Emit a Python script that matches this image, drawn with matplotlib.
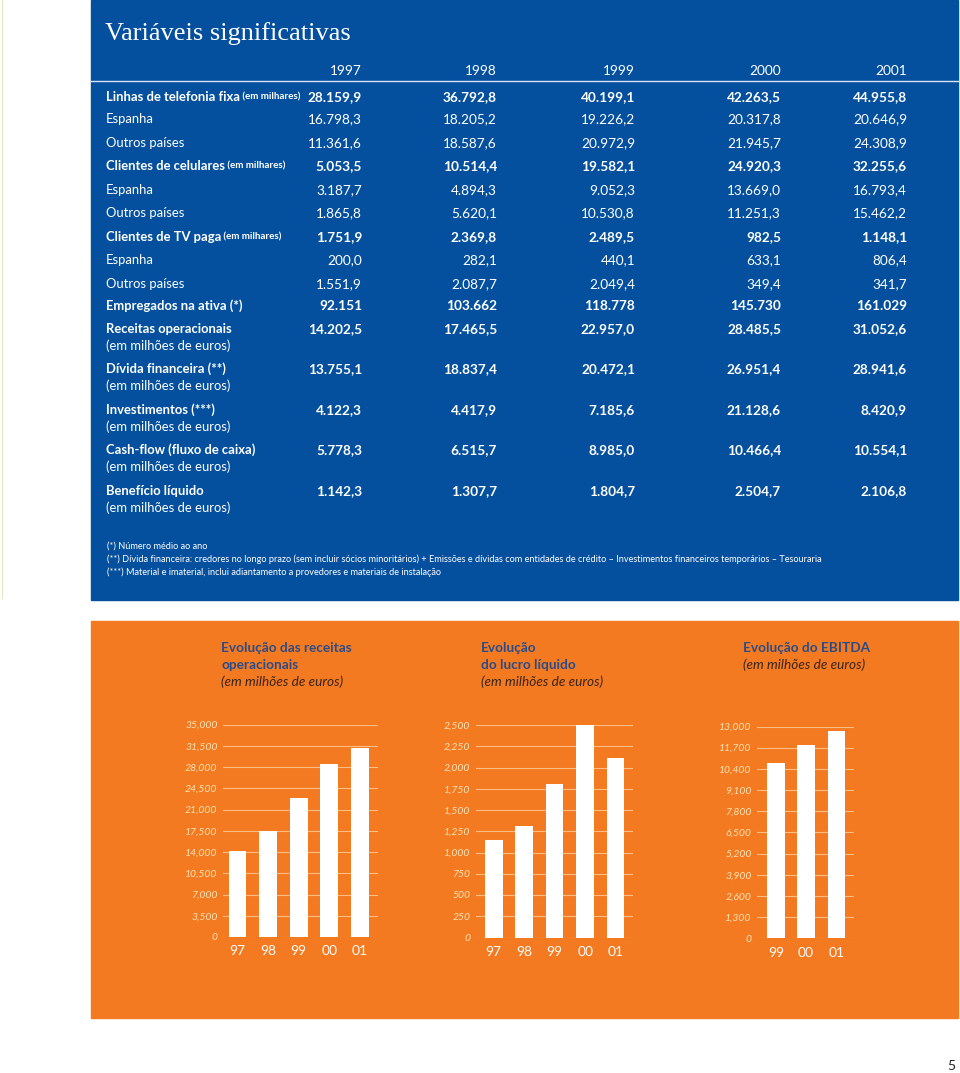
import matplotlib
matplotlib.use('Agg')
import matplotlib.pyplot as plt
from matplotlib.patches import Rectangle

# --- dados da tabela ---
years = ['1997', '1998', '1999', '2000', '2001']

row_labels = ['Linhas de telefonia fixa', 'Espanha', 'Outros países',
              'Clientes de celulares', 'Espanha', 'Outros países',
              'Clientes de TV paga', 'Espanha', 'Outros países',
              'Empregados na ativa (*)', 'Receitas operacionais',
              'Dívida financeira (**)', 'Investimentos (***)',
              'Cash-flow (fluxo de caixa)', 'Benefício líquido']
row_units = ['(em milhares)', '', '', '(em milhares)', '', '', '(em milhares)', '', '', '',
             '(em milhões de euros)', '(em milhões de euros)', '(em milhões de euros)',
             '(em milhões de euros)', '(em milhões de euros)']
row_bold = [True, False, False, True, False, False, True, False, False,
            True, True, True, True, True, True]
row_decimals = [1] * 9 + [0] + [1] * 5

fixa_total = [28159.9, 36792.8, 40199.1, 42263.5, 44955.8]
fixa_espanha = [16798.3, 18205.2, 19226.2, 20317.8, 20646.9]
fixa_outros = [11361.6, 18587.6, 20972.9, 21945.7, 24308.9]
cel_total = [5053.5, 10514.4, 19582.1, 24920.3, 32255.6]
cel_espanha = [3187.7, 4894.3, 9052.3, 13669.0, 16793.4]
cel_outros = [1865.8, 5620.1, 10530.8, 11251.3, 15462.2]
tv_total = [1751.9, 2369.8, 2489.5, 982.5, 1148.1]
tv_espanha = [200.0, 282.1, 440.1, 633.1, 806.4]
tv_outros = [1551.9, 2087.7, 2049.4, 349.4, 341.7]
empregados = [92151, 103662, 118778, 145730, 161029]
receitas = [14202.5, 17465.5, 22957.0, 28485.5, 31052.6]
divida = [13755.1, 18837.4, 20472.1, 26951.4, 28941.6]
investimentos = [4122.3, 4417.9, 7185.6, 21128.6, 8420.9]
cash_flow = [5778.3, 6515.7, 8985.0, 10466.4, 10554.1]
beneficio = [1142.3, 1307.7, 1804.7, 2504.7, 2106.8]

table_rows = [fixa_total, fixa_espanha, fixa_outros, cel_total, cel_espanha, cel_outros,
              tv_total, tv_espanha, tv_outros, empregados, receitas, divida,
              investimentos, cash_flow, beneficio]

footnotes = [
    '(*) Número médio ao ano',
    '(**) Dívida financeira: credores no longo prazo (sem incluir sócios minoritários) + Emissões e dívidas '
    'com entidades de crédito – Investimentos financeiros temporários – Tesouraria',
    '(***) Material e imaterial, inclui adiantamento a provedores e materiais de instalação',
]

# --- dados dos gráficos ---
years_short = ['97', '98', '99', '00', '01']
ebitda_years = ['99', '00', '01']
ebitda = [10780, 11850, 12700]

BLUE = '#04509f'
ORANGE = '#f47a21'
CREAM = '#fde2b4'
GRID = '#f9bd83'
TITLE_BLUE = '#2b4c88'
SUB_DARK = '#3a2418'
SANS = 'Lato'

W, H = 960, 1073


def fmt_pt(v, dec):
    s = f'{v:,.{dec}f}'
    return s.replace(',', '#').replace('.', ',').replace('#', '.')


fig = plt.figure(figsize=(W / 100, H / 100), dpi=100)
fig.patch.set_facecolor('white')
bg = fig.add_axes([0, 0, 1, 1])
bg.set_xlim(0, W)
bg.set_ylim(H, 0)
bg.axis('off')

# painéis
bg.add_patch(Rectangle((91, 0), 867, 600, color=BLUE, zorder=0))
bg.add_patch(Rectangle((91, 621), 867, 397, color=ORANGE, zorder=0))
bg.plot([2, 2], [0, 598], color='#e8e6c0', lw=0.8)

bg.text(105, 34, 'Variáveis significativas', family='Liberation Serif', fontsize=19,
        color='white', va='center', ha='left')

# cabeçalho
col_right = [362, 497, 635, 781, 907]
for x, yr in zip(col_right, years):
    bg.text(x, 71, yr, family=SANS, fontsize=9.8, color='white', ha='right', va='center')
bg.plot([91, 958], [81, 81], color='#d8e4f2', lw=1)

row_y = [97, 119, 143, 166, 190, 213, 237, 260, 284, 306, 329, 369, 410, 450, 491]
for y, lab, unit, bold, dec, vals in zip(row_y, row_labels, row_units, row_bold,
                                          row_decimals, table_rows):
    w = 'bold' if bold else 'normal'
    t = bg.text(106, y, lab, family=SANS, fontsize=9.4, fontweight=w, color='white',
                ha='left', va='center')
    if unit == '(em milhares)':
        bg.annotate(' ' + unit, xycoords=t, xy=(1, 0.5), va='center', ha='left',
                    family=SANS, fontsize=7.1, fontweight='bold', color='white')
    elif unit:
        bg.text(106, y + 17, unit, family=SANS, fontsize=9.4, color='white',
                ha='left', va='center')
    for x, v in zip(col_right, vals):
        bg.text(x, y, fmt_pt(v, dec), family=SANS, fontsize=9.8, fontweight=w,
                color='white', ha='right', va='center')

for i, note in enumerate(footnotes):
    bg.text(107, 546 + 13 * i, note, family=SANS,
            fontsize=6.6, color='white', ha='left', va='center')

bg.text(955, 1066, '5', family=SANS, fontsize=10, color='#222222', ha='right', va='center')


def px_axes(x0, y0, x1, y1):
    return fig.add_axes([x0 / W, 1 - y1 / H, (x1 - x0) / W, (y1 - y0) / H])


def bar_chart(box, labels, values, top, step, xlim, title, tx):
    ax = px_axes(*box)
    ax.set_facecolor('none')
    xs = list(range(len(values)))
    ax.bar(xs, values, width=0.58, color='white', zorder=3)
    ax.set_xlim(*xlim)
    ax.set_ylim(0, top)
    ticks = list(range(0, top + 1, step))
    ax.set_yticks(ticks)
    ax.set_yticklabels([f'{t:,}' for t in ticks], family=SANS, style='italic',
                       fontsize=7.5, color=CREAM)
    ax.set_xticks(xs)
    ax.set_xticklabels(labels, family=SANS, fontsize=10, color='white')
    ax.tick_params(axis='y', length=0, pad=4)
    ax.tick_params(axis='x', length=0, pad=6)
    ax.grid(axis='y', color=GRID, lw=0.8, zorder=1)
    ax.set_axisbelow(True)
    for s in ax.spines.values():
        s.set_visible(False)
    lines = title.split('\n')
    for i, ln in enumerate(lines):
        bg.text(tx, 648 + 17 * i, ln, family=SANS, fontsize=9.8, fontweight='bold',
                color=TITLE_BLUE, ha='left', va='center')
    bg.text(tx, 648 + 17 * len(lines), '(em milhões de euros)', family=SANS,
            fontsize=9.8, style='italic', color=SUB_DARK, ha='left', va='center')
    return ax


bar_chart((223, 724.5, 378, 937), years_short, receitas, 35000, 3500, (-0.48, 4.6),
          'Evolução das receitas\noperacionais', 221)
bar_chart((476, 725, 633, 937.5), years_short, beneficio, 2500, 250, (-0.58, 4.57),
          'Evolução\ndo lucro líquido', 481)
bar_chart((757, 726.5, 854, 938.3), ebitda_years, ebitda, 13000, 1300, (-0.62, 2.58),
          'Evolução do EBITDA', 743)

fig.savefig('out.png', dpi=100)
